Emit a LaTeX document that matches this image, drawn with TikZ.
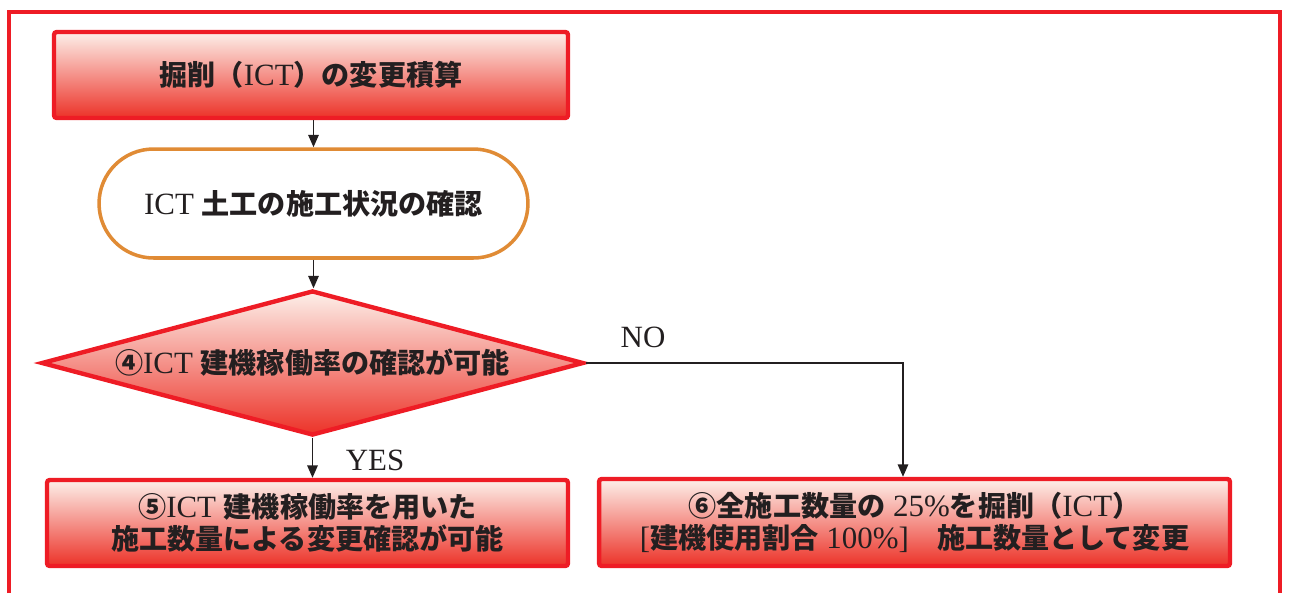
\documentclass[tikz,border=0pt]{standalone}
\usepackage{fontspec}
\setmainfont{Liberation Serif}[Scale=1.1]
\newfontfamily\jpfont{Noto Sans CJK JP}
\usetikzlibrary{shapes.geometric,arrows.meta}

\definecolor{frameRed}{HTML}{EE1C25}
\definecolor{boxTop}{HTML}{FDF0EA}
\definecolor{boxMid}{HTML}{F4A68C}
\definecolor{boxBot}{HTML}{EC3228}
\definecolor{pillOrange}{HTML}{E08B35}
\definecolor{lineGray}{HTML}{231F20}

\newcommand{\jp}[1]{{\jpfont\bfseries #1}}

\begin{document}
\begin{tikzpicture}[x=0.02cm,y=-0.02cm]
\tikzstyle{every node}+=[inner sep=0pt, font=\fontsize{16}{18}\selectfont, text=lineGray]
\tikzstyle{redbox}=[draw=frameRed, line width=2.5pt, rounded corners=1.5pt, top color=boxTop, middle color=boxMid, bottom color=boxBot, align=center]
\tikzstyle{pill}=[draw=pillOrange, line width=2pt, fill=white, rounded corners=1.09cm, minimum width=8.58cm, minimum height=2.18cm]
\tikzstyle{decide}=[diamond, aspect=3.75, draw=frameRed, line width=2.5pt, top color=boxTop, middle color=boxMid, bottom color=boxBot, minimum width=10.85cm, minimum height=2.9cm]
\tikzstyle{flow}=[draw=lineGray, line width=0.9pt, -{Triangle[length=0.25cm,width=0.21cm]}]
\useasboundingbox (0,0) rectangle (1289,593);
% outer frame
\draw [frameRed, line width=1.8pt] (9,593) -- (9,12) -- (1280,12) -- (1280,593);
% column on the left
\node [redbox, minimum width=10.28cm, minimum height=1.72cm] (calc) at (311,75) {\jp{掘削（}ICT\jp{）の変更積算}};
\node [pill] (check) at (313.5,203.5) {ICT \jp{土工の施工状況の確認}};
\node [decide] (rate) at (312.5,363) {\jp{④}ICT \jp{建機稼働率の確認が可能}};
\node [redbox, minimum width=10.42cm, minimum height=1.72cm] (yesbox) at (307.5,523) {\jp{⑤}ICT \jp{建機稼働率を用いた}\\\jp{施工数量による変更確認が可能}};
% box on the right
\node [redbox, minimum width=12.62cm, minimum height=1.74cm] (nobox) at (914.5,522.5) {\jp{⑥全施工数量の} 25\%\jp{を掘削（}ICT\jp{）}\\{[}\jp{建機使用割合} 100\%]\jp{　施工数量として変更}};
\coordinate (noturn) at (903,363);
% connectors
\draw [flow] (calc.south -| check.north) -- (check.north);
\draw [flow] (check.south) -- (check.south |- rate.north);
\draw [flow] (rate.south) -- (rate.south |- yesbox.north);
\draw [flow] (rate.east) -- (noturn) -- (noturn |- nobox.north);
\node (yestxt) at (375,460) {YES};
\node (notxt) at (643,337) {NO};
\end{tikzpicture}
\end{document}
